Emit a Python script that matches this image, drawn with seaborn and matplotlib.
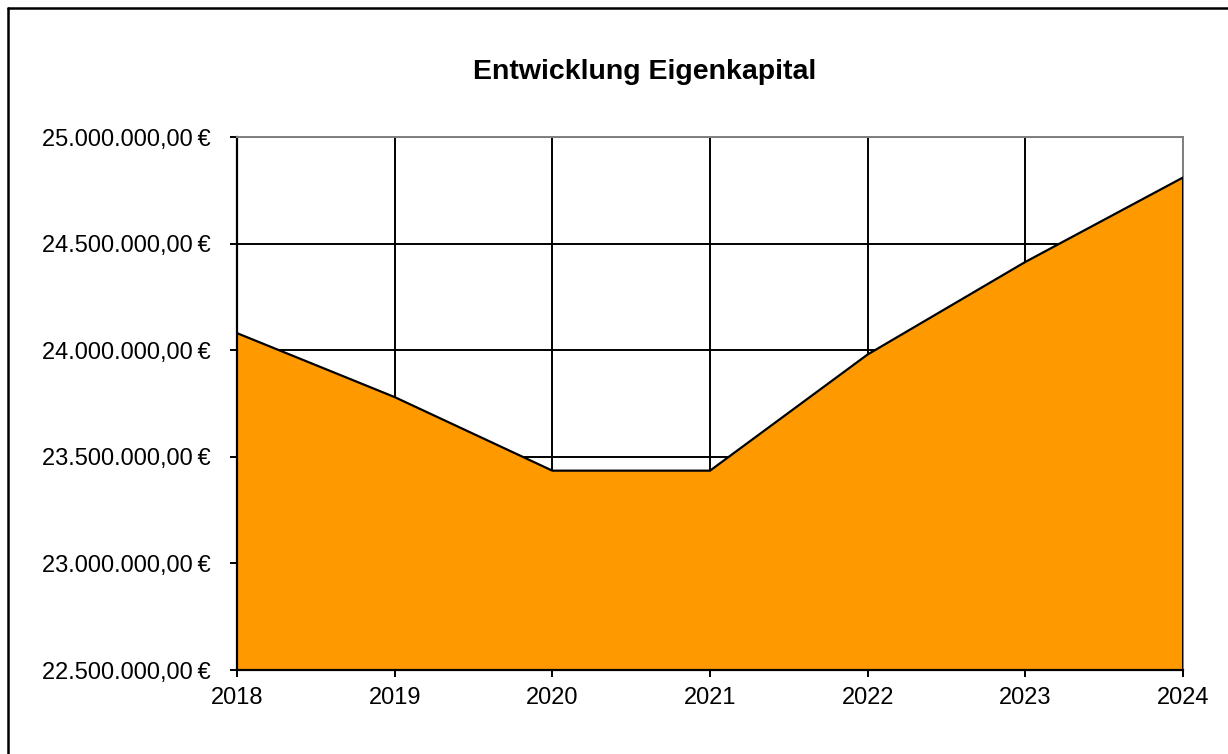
import matplotlib
matplotlib.use("Agg")
import matplotlib.pyplot as plt
import matplotlib.ticker as mticker
from matplotlib.lines import Line2D
import pandas as pd
import seaborn as sns

# --- Data ---
years = [2018, 2019, 2020, 2021, 2022, 2023, 2024]
equity = [24080000, 23780000, 23435000, 23435000, 23980000, 24414000, 24810000]
y_ticks = [22500000, 23000000, 23500000, 24000000, 24500000, 25000000]

TITLE = "Entwicklung Eigenkapital"
ORANGE = "#FF9900"


def euro_fmt(v, pos=None):
    s = f"{v:,.2f}".replace(",", "X").replace(".", ",").replace("X", ".")
    return s + "\u2009€"


sns.set_style("white")
plt.rcParams["font.family"] = ["Liberation Sans", "DejaVu Sans"]
plt.rcParams["text.color"] = "black"
plt.rcParams["xtick.color"] = "black"
plt.rcParams["ytick.color"] = "black"

df = pd.DataFrame({"Jahr": years, "Eigenkapital": equity})

fig = plt.figure(figsize=(12.28, 7.54), dpi=100)
ax = fig.add_axes([237 / 1228, 1 - 670 / 754, (1183 - 237) / 1228, (670 - 137) / 754])

# grid first, the area covers it
ax.set_axisbelow(True)
ax.grid(True, color="black", linewidth=1.4)

ax.fill_between(df["Jahr"], df["Eigenkapital"], y_ticks[0], color=ORANGE,
                linewidth=0, zorder=2)
sns.lineplot(data=df, x="Jahr", y="Eigenkapital", color="black", linewidth=1.6,
             ax=ax, zorder=3)
ax.plot([years[-1], years[-1]], [y_ticks[0], equity[-1]], color="black",
        linewidth=1.4, zorder=3)

ax.set_xlim(years[0], years[-1])
ax.set_ylim(y_ticks[0], y_ticks[-1])
ax.set_xticks(years)
ax.set_yticks(y_ticks)
ax.yaxis.set_major_formatter(mticker.FuncFormatter(euro_fmt))
ax.set_xlabel("")
ax.set_ylabel("")

ax.tick_params(axis="y", direction="out", length=5, width=1.4, color="black",
               pad=14, labelsize=17, left=True)
ax.tick_params(axis="x", direction="out", length=5, width=1.4, color="black",
               pad=7, labelsize=17, bottom=True)

for side in ["left", "bottom"]:
    ax.spines[side].set_color("black")
    ax.spines[side].set_linewidth(1.6)
for side in ["top", "right"]:
    ax.spines[side].set_color("#808080")
    ax.spines[side].set_linewidth(1.4)

fig.text(645 / 1228, 1 - 72 / 754, TITLE, ha="center", va="center",
         fontsize=20.5, fontweight="bold")

# chart frame (only top and left edges are inside the image)
fig.add_artist(Line2D([7.5 / 1228, 1], [1 - 7.5 / 754, 1 - 7.5 / 754],
                      transform=fig.transFigure, color="black", linewidth=1.8))
fig.add_artist(Line2D([7.5 / 1228, 7.5 / 1228], [0, 1 - 7.5 / 754],
                      transform=fig.transFigure, color="black", linewidth=1.8))

fig.savefig("out.png", dpi=100)
